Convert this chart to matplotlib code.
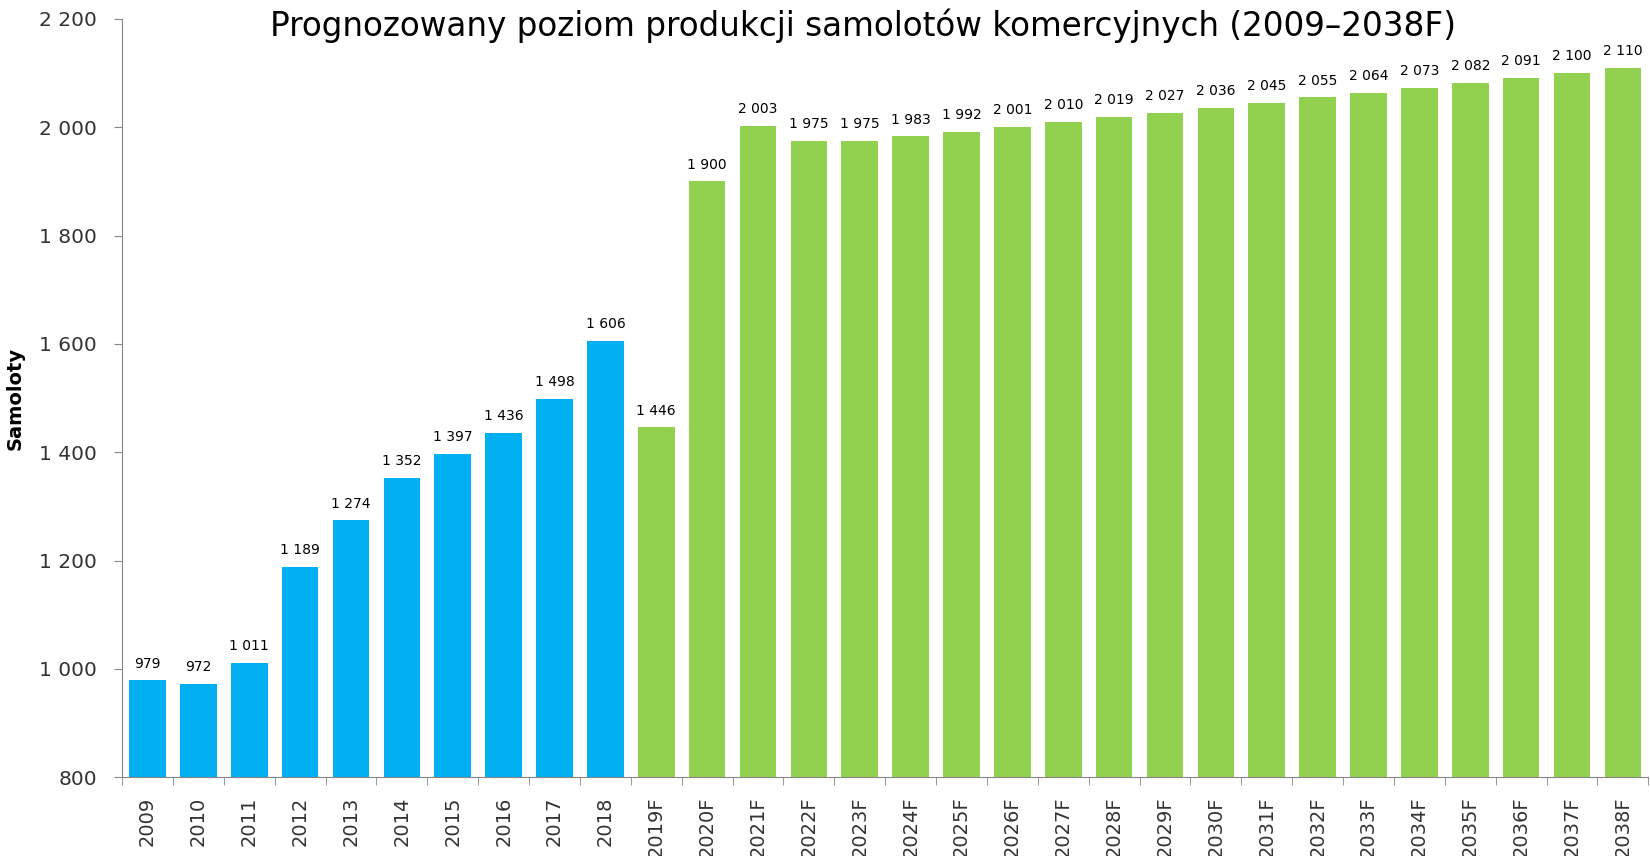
import matplotlib.pyplot as plt
from matplotlib.ticker import FuncFormatter, MultipleLocator, FixedLocator

years = ["2009", "2010", "2011", "2012", "2013", "2014", "2015", "2016", "2017", "2018",
         "2019F", "2020F", "2021F", "2022F", "2023F", "2024F", "2025F", "2026F", "2027F", "2028F",
         "2029F", "2030F", "2031F", "2032F", "2033F", "2034F", "2035F", "2036F", "2037F", "2038F"]
values = [979, 972, 1011, 1189, 1274, 1352, 1397, 1436, 1498, 1606,
          1446, 1900, 2003, 1975, 1975, 1983, 1992, 2001, 2010, 2019,
          2027, 2036, 2045, 2055, 2064, 2073, 2082, 2091, 2100, 2110]
n_hist = 10  # lata rzeczywiste, reszta to prognoza


def fmt(v):
    return "{:,}".format(int(v)).replace(",", " ")


fig = plt.figure(figsize=(16.5, 8.56), dpi=100)
ax = fig.add_axes([0.074, 0.092, 0.925, 0.886])

colors = ["#00B0F0" if i < n_hist else "#92D050" for i in range(len(values))]
x = list(range(len(values)))
bars = ax.bar(x, values, width=0.72, color=colors, zorder=2)

for xi, v in zip(x, values):
    ax.text(xi, v + 18, fmt(v), ha="center", va="bottom", fontsize=10)

ax.set_ylim(800, 2200)
ax.set_xlim(-0.5, len(values) - 0.5)
ax.yaxis.set_major_locator(MultipleLocator(200))
ax.yaxis.set_major_formatter(FuncFormatter(lambda v, p: fmt(v)))

ax.set_xticks(x)
ax.set_xticklabels(years, rotation=90, fontsize=14, color="#333333")
ax.tick_params(axis="x", length=0, pad=14)
# kreski miedzy kategoriami
ax.xaxis.set_minor_locator(FixedLocator([i - 0.5 for i in range(len(values) + 1)]))
ax.tick_params(axis="x", which="minor", length=6, color="#868686")
ax.tick_params(axis="y", length=6, color="#868686", labelsize=14.5, pad=12,
               labelcolor="#333333")

for s in ["top", "right"]:
    ax.spines[s].set_visible(False)
for s in ["left", "bottom"]:
    ax.spines[s].set_color("#868686")

ax.set_ylabel("Samoloty", fontsize=14, fontweight="bold")
ax.yaxis.set_label_coords(-0.064, 0.5)

fig.text(0.523, 0.97, "Prognozowany poziom produkcji samolotów komercyjnych (2009–2038F)",
         ha="center", va="center", fontsize=23.5)

fig.savefig("out.png", dpi=100)
